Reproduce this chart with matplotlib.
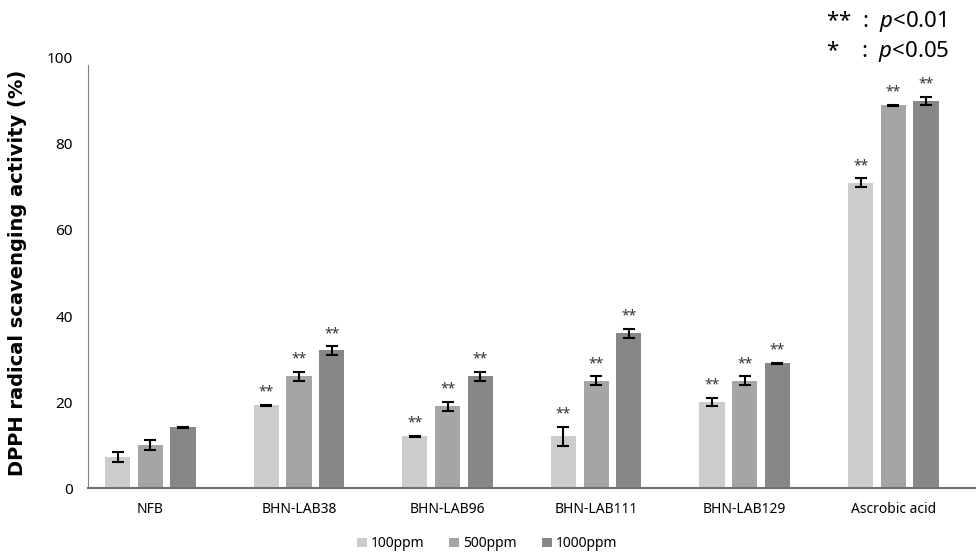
import numpy as np
import matplotlib.pyplot as plt

plt.rcParams['font.family'] = ['Noto Sans', 'DejaVu Sans']
plt.rcParams['mathtext.fontset'] = 'custom'
plt.rcParams['mathtext.it'] = 'Noto Sans:italic'
plt.rcParams['mathtext.rm'] = 'Noto Sans'

groups = ["NFB", "BHN-LAB38", "BHN-LAB96", "BHN-LAB111", "BHN-LAB129", "Ascrobic acid"]
labels = ["100ppm", "500ppm", "1000ppm"]
v100 = [7.2, 19.2, 12.0, 12.0, 20.0, 71.0]
v500 = [10.0, 26.0, 19.0, 25.0, 25.0, 89.0]
v1000 = [14.1, 32.0, 26.0, 36.0, 29.0, 90.0]
e100 = [1.2, 0.1, 0.1, 2.2, 1.0, 1.0]
e500 = [1.2, 1.0, 1.0, 1.0, 1.0, 0.1]
e1000 = [0.1, 1.0, 1.0, 1.0, 0.1, 1.0]
sig100 = ["", "**", "**", "**", "**", "**"]
sig500 = ["", "**", "**", "**", "**", "**"]
sig1000 = ["", "**", "**", "**", "**", "**"]
colors = ["#cccccc", "#a5a5a5", "#878787"]

fig = plt.figure(figsize=(9.79, 5.54), dpi=100)
ax = fig.add_axes([88/979, 66/554, 887/979, 430/554])

x = np.arange(len(groups))
w = 0.17
step = 0.22
series = [(v100, e100, sig100), (v500, e500, sig500), (v1000, e1000, sig1000)]
for i, (vals, errs, sigs) in enumerate(series):
    pos = x + (i - 1) * step
    ax.bar(pos, vals, w, color=colors[i], label=labels[i], zorder=2)
    ax.errorbar(pos, vals, yerr=errs, fmt='none', ecolor='black',
                elinewidth=1.5, capsize=4, capthick=1.5, zorder=3)
    for p, v, e, s in zip(pos, vals, errs, sigs):
        if s:
            ax.text(p, v + e + 1.2, s, ha='center', va='bottom',
                    fontsize=10, color='#333333')

ax.set_xlim(-0.42, 5.55)
ax.set_ylim(0, 100)
ax.set_yticks([0, 20, 40, 60, 80, 100])
ax.set_xticks(x)
ax.set_xticklabels(groups, fontsize=10)
ax.tick_params(axis='y', labelsize=11, length=0, pad=11)
ax.tick_params(axis='x', length=0, pad=10)
for s in ['top', 'right']:
    ax.spines[s].set_visible(False)
ax.spines['left'].set_color('#808080')
ax.spines['left'].set_bounds(0, 98.3)
ax.spines['bottom'].set_color('#707070')
ax.spines['bottom'].set_linewidth(1.5)
ax.set_ylabel("DPPH radical scavenging activity (%)", fontsize=14,
              fontweight='bold', family=['DejaVu Sans'], labelpad=14)

ax.legend(loc='center', bbox_to_anchor=(0.45, -0.13), ncol=3,
          frameon=False, fontsize=10, handlelength=0.7, handleheight=0.7,
          handletextpad=0.3, columnspacing=1.8)

fig.text(826/979, 1 - 22/554, "**  :  $p$<0.01", fontsize=16, va='center')
fig.text(826/979, 1 - 52/554, "*    :  $p$<0.05", fontsize=16, va='center')

fig.savefig("out.png", dpi=100)
